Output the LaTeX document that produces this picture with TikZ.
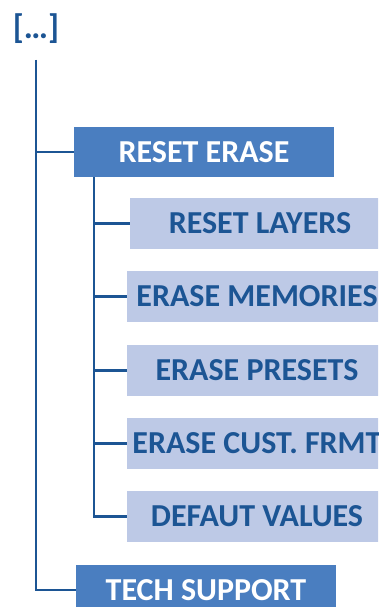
\documentclass[tikz,border=0pt]{standalone}
\usepackage{fontspec}
\setmainfont{Carlito}
\usepackage{tikz}
\usetikzlibrary{arrows.meta, positioning}
\definecolor{menublue}{HTML}{1C5594}
\definecolor{headfill}{HTML}{4A7EC0}
\definecolor{itemfill}{HTML}{BDC9E6}

\begin{document}
\begin{tikzpicture}[
    x=1pt, y=-1pt,
    font=\fontsize{32}{38}\selectfont\bfseries,
    head/.style={fill=headfill, text=white, inner sep=0pt,
        minimum width=260pt, minimum height=50pt, align=center},
    item/.style={fill=itemfill, text=menublue, inner sep=0pt,
        minimum width=260pt, minimum height=51pt, align=center},
    tree/.style={draw=menublue, line width=2.4pt}
]
\useasboundingbox (0,0) rectangle (378,607);
\clip (0,0) rectangle (378,607);

\node[text=menublue, inner sep=0pt, font=\fontsize{34}{40}\selectfont\bfseries] (more) at (36,29) {[…]};
\coordinate (trunk) at (36,60);

\node[head] (reset) at (204,152) {RESET ERASE};
\node[item] (layers) at (260,223.5) {RESET LAYERS};
\node[item] (memories) at (257,296.5) {ERASE MEMORIES};
\node[item] (presets) at (257,370.5) {ERASE PRESETS};
\node[item] (custfrmt) at (257,443.5) {ERASE CUST. FRMT};
\node[item] (defaults) at (257,516.5) {DEFAUT VALUES};
\node[head] (tech) at (206,590) {TECH SUPPORT};

\foreach \h in {reset,tech}{\draw[tree] (trunk) |- (\h.west);}
\foreach \s in {layers,memories,presets,custfrmt,defaults}{\draw[tree] ([xshift=20pt]reset.south west) |- (\s.west);}
\end{tikzpicture}
\end{document}
